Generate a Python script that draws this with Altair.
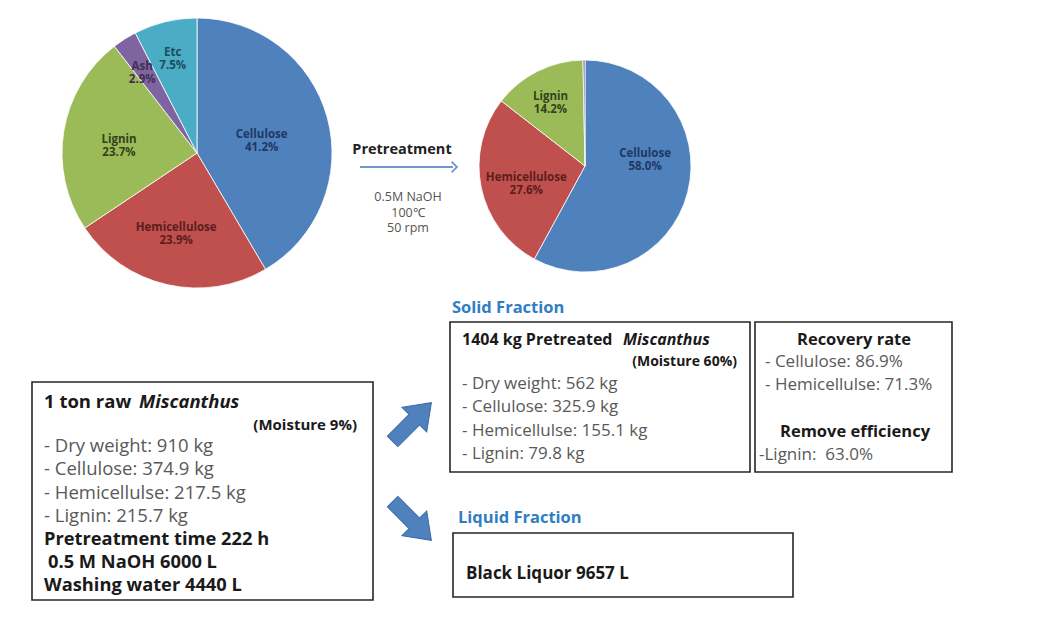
import altair as alt
import pandas as pd

W, H = 1042, 631
FONT = "Open Sans"

# ---------------- data ----------------
raw_names = ["Cellulose", "Hemicellulose", "Lignin", "Ash", "Etc"]
raw_pct = [41.2, 23.9, 23.7, 2.9, 7.5]
pre_names = ["Cellulose", "Hemicellulose", "Lignin", "Ash"]
pre_pct = [58.0, 27.6, 14.2, 0.3]
pre_labelled = ["Cellulose", "Hemicellulose", "Lignin"]

pretreat_title = "Pretreatment"
pretreat_conditions = ["0.5M NaOH", "100℃", "50 rpm"]

raw_head = ["1 ton raw", "Miscanthus", "(Moisture 9%)"]
raw_items = ["- Dry weight: 910 kg", "- Cellulose: 374.9 kg",
             "- Hemicellulse: 217.5 kg", "- Lignin: 215.7 kg"]
raw_process = ["Pretreatment time 222 h", "0.5 M NaOH 6000 L", "Washing water 4440 L"]

solid_caption = "Solid Fraction"
solid_head = ["1404 kg Pretreated", "Miscanthus", "(Moisture 60%)"]
solid_items = ["- Dry weight: 562 kg", "- Cellulose: 325.9 kg",
               "- Hemicellulse: 155.1 kg", "- Lignin: 79.8 kg"]

recovery_head = "Recovery rate"
recovery_items = ["- Cellulose: 86.9%", "- Hemicellulse: 71.3%"]
remove_head = "Remove efficiency"
remove_items = ["-Lignin:\u00a0\u00a063.0%"]

liquid_caption = "Liquid Fraction"
liquid_text = "Black Liquor 9657 L"

# ---------------- styles ----------------
slice_fill = {"Cellulose": "#4F81BD", "Hemicellulose": "#C0504D", "Lignin": "#9BBB59",
              "Ash": "#8064A2", "Etc": "#4BACC6"}
slice_text = {"Cellulose": "#1F3864", "Hemicellulose": "#5A1E1C", "Lignin": "#33421A",
              "Ash": "#3F3151", "Etc": "#1D4D5C"}
theta_scale = alt.Scale(domain=[0, 1], range=[0, 6.283185307])
fill_scale = alt.Scale(domain=list(slice_fill.keys()), range=list(slice_fill.values()))
GREY = "#595959"
INK = "#1a1a1a"
BLUE_TXT = "#2F7DC4"

layers = []


def pie(names, values, cx, cy, R, label_pos, labelled):
    df = pd.DataFrame({"name": names, "v": values, "order": list(range(len(names)))})
    base = (alt.Chart(df)
            .transform_joinaggregate(total="sum(v)")
            .transform_window(cum="sum(v)", sort=[alt.SortField("order")], frame=[None, 0])
            .transform_calculate(f1="datum.cum/datum.total",
                                 f0="(datum.cum-datum.v)/datum.total",
                                 fm="(datum.cum-datum.v/2)/datum.total",
                                 lab="datum.name + '\\n' + format(datum.v, '.1f') + '%'"))
    arcs = base.mark_arc(stroke="white", strokeWidth=0.8).encode(
        theta=alt.Theta("f0:Q", scale=theta_scale),
        theta2="f1:Q",
        fill=alt.Fill("name:N", scale=fill_scale, legend=None),
        x=alt.value(cx), y=alt.value(cy), radius=alt.value(R))
    out = [arcs]
    for nm in labelled:
        r, ddx, ddy = label_pos[nm]
        out.append(base.transform_filter(alt.datum.name == nm).mark_text(
            font=FONT, fontSize=11.5, fontWeight="bold", lineBreak="\n", lineHeight=13,
            radius=r, dx=ddx, dy=ddy, color=slice_text[nm]).encode(
            theta=alt.Theta("fm:Q", scale=theta_scale),
            x=alt.value(cx), y=alt.value(cy), text="lab:N"))
    return out


layers += pie(raw_names, raw_pct, 197, 153, 135,
              {"Cellulose": (67, 0, 0), "Hemicellulose": (80, -3, -3), "Lignin": (79, 0, 0),
               "Ash": (102, 0, 0), "Etc": (103, 0, 0)}, raw_names)
layers += pie(pre_names, pre_pct, 585, 166, 106,
              {"Cellulose": (62, 0, -27), "Hemicellulose": (60, 0, 0), "Lignin": (77, 0, 0)},
              pre_labelled)


def txt(rows, **kw):
    df = pd.DataFrame(rows, columns=["x", "y", "t"])
    props = dict(font=FONT, fontSize=16, baseline="middle", align="left", color=INK)
    props.update(kw)
    return alt.Chart(df).mark_text(**props).encode(
        x=alt.X("x:Q", scale=None, axis=None),
        y=alt.Y("y:Q", scale=None, axis=None),
        text="t:N")


def box(x0, y0, x1, y1):
    df = pd.DataFrame({"x": [x0], "x2": [x1], "y": [y0], "y2": [y1]})
    return alt.Chart(df).mark_rect(fill="white", stroke="#262626", strokeWidth=1.6).encode(
        x=alt.X("x:Q", scale=None, axis=None), x2="x2:Q",
        y=alt.Y("y:Q", scale=None, axis=None), y2="y2:Q")


# pretreatment arrow
arrow_df = pd.DataFrame({"x": [360], "x2": [453], "y": [167]})
layers.append(alt.Chart(arrow_df).mark_rule(color="#7397CD", strokeWidth=2).encode(
    x=alt.X("x:Q", scale=None, axis=None), x2="x2:Q", y=alt.Y("y:Q", scale=None, axis=None)))
head_df = pd.DataFrame({"x": [457], "y": [167]})
layers.append(alt.Chart(head_df).mark_point(
    shape="M -1 -1 L 0 0 L -1 1", filled=False, color="#7397CD", strokeWidth=1.8,
    size=120, opacity=1).encode(
    x=alt.X("x:Q", scale=None, axis=None), y=alt.Y("y:Q", scale=None, axis=None)))
layers.append(txt([(402, 150, pretreat_title)], fontSize=14.5, fontWeight="bold",
                  align="center", color="#222222"))
layers.append(txt([(408, 197 + 15.5 * i, s) for i, s in enumerate(pretreat_conditions)],
                  fontSize=12.5, align="center", color="#555555"))

# boxes
layers.append(box(32, 382, 373, 600))
layers.append(box(450, 322, 750, 472))
layers.append(box(755, 322, 952, 472))
layers.append(box(453, 533, 793, 597))

# raw box text (larger font in this box)
layers.append(txt([(44, 402, raw_head[0])], fontWeight="bold", fontSize=18.5))
layers.append(txt([(139, 402, raw_head[1])], fontWeight="bold", fontStyle="italic", fontSize=18.5))
layers.append(txt([(357, 425, raw_head[2])], fontWeight="bold", fontSize=15, align="right"))
layers.append(txt([(44, 446 + 23.3 * i, s) for i, s in enumerate(raw_items)],
                  color=GREY, fontSize=18.5))
layers.append(txt([(44, 539.5, raw_process[0]), (48, 562.5, raw_process[1]),
                   (44, 585.5, raw_process[2])], fontWeight="bold", fontSize=18.3))

# solid fraction
layers.append(txt([(452, 308, solid_caption)], fontWeight="bold", fontSize=16.5, color=BLUE_TXT))
layers.append(txt([(462, 340, solid_head[0])], fontWeight="bold", fontSize=16))
layers.append(txt([(623, 340, solid_head[1])], fontWeight="bold", fontStyle="italic", fontSize=16))
layers.append(txt([(737, 362, solid_head[2])], fontWeight="bold", fontSize=14, align="right"))
layers.append(txt([(462, 384 + 23.3 * i, s) for i, s in enumerate(solid_items)],
                  color=GREY, fontSize=17))

# recovery
layers.append(txt([(854, 340, recovery_head), (855, 432, remove_head)],
                  fontWeight="bold", fontSize=16.5, align="center"))
layers.append(txt([(765, 362, recovery_items[0]), (765, 385, recovery_items[1]),
                   (759, 455, remove_items[0])], color=GREY, fontSize=17))

# liquid fraction
layers.append(txt([(458, 518, liquid_caption)], fontWeight="bold", fontSize=16.5, color=BLUE_TXT))
layers.append(txt([(466, 574, liquid_text)], fontWeight="bold", fontSize=17))

# block arrows
block = "M -1 -0.27 L 0.12 -0.27 L 0.12 -0.64 L 1 0 L 0.12 0.64 L 0.12 0.27 L -1 0.27 Z"
barrow_df = pd.DataFrame({"x": [412, 412], "y": [422, 521], "a": [315, 45]})
layers.append(alt.Chart(barrow_df).mark_point(
    shape=block, filled=True, fill="#4F81BD", stroke="#3B6AA8", strokeWidth=1,
    size=3000, opacity=1).encode(
    x=alt.X("x:Q", scale=None, axis=None), y=alt.Y("y:Q", scale=None, axis=None),
    angle=alt.Angle("a:Q", scale=None)))

chart = alt.layer(*layers).properties(
    width=W, height=H, padding=0, autosize="none", background="white"
).configure_view(stroke=None)

chart.save("out.html", embed_options={"renderer": "svg", "actions": False})
